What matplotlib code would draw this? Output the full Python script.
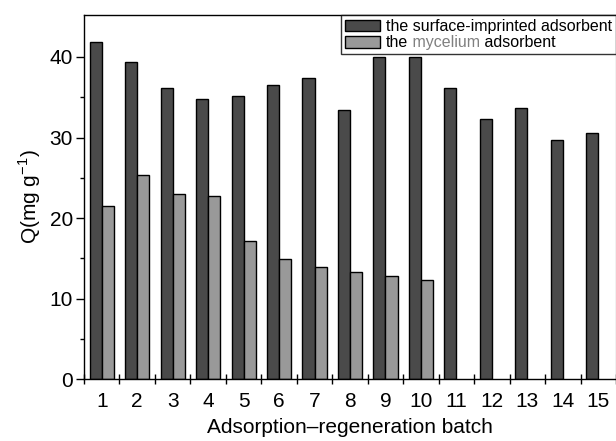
import numpy as np
import matplotlib
matplotlib.use('Agg')
import matplotlib.pyplot as plt
from matplotlib.patches import Patch

plt.rcParams['font.family'] = ['Liberation Sans', 'DejaVu Sans']

# dados
batches = np.arange(1, 16)
q_imprinted = [41.8, 39.4, 36.1, 34.8, 35.2, 36.5, 37.4, 33.4, 40.0, 40.0,
               36.1, 32.3, 33.7, 29.7, 30.5]
q_mycelium = [21.5, 25.4, 23.0, 22.7, 17.2, 14.9, 13.9, 13.3, 12.8, 12.3]

cor_escura = '#4a4a4a'
cor_clara = '#999999'
larg = 0.34
fs = 15
fs_leg = 11.5

fig = plt.figure(figsize=(6.16, 4.41), dpi=100)
ax = fig.add_axes([84/616, 61.7/441, 532/616, 364.3/441])

ax.bar(batches - larg/2, q_imprinted, width=larg, color=cor_escura,
       edgecolor='black', linewidth=1.0)
ax.bar(batches[:len(q_mycelium)] + larg/2, q_mycelium, width=larg,
       color=cor_clara, edgecolor='black', linewidth=1.0)

ax.set_xlim(0.5, 15.5)
ax.set_ylim(0, 45.2)

ax.set_xticks(batches)
ax.set_xticklabels([str(b) for b in batches])
ax.set_xticks(np.arange(0.5, 16, 1), minor=True)
ax.tick_params(axis='x', which='major', length=0, pad=9, labelsize=fs)
ax.tick_params(axis='x', which='minor', direction='inout', length=7, width=1)

ax.set_yticks([0, 10, 20, 30, 40])
ax.set_yticks(np.arange(5, 45, 10), minor=True)
ax.tick_params(axis='y', which='major', direction='out', length=6, width=1,
               labelsize=fs, pad=2)
ax.tick_params(axis='y', which='minor', direction='out', length=3, width=1)

for s in ax.spines.values():
    s.set_linewidth(1.0)
ax.spines['right'].set_color('#bbbbbb')

ax.set_xlabel('Adsorption\u2013regeneration batch', fontsize=fs, labelpad=5)
ax.set_ylabel('Q(mg g$^{\\mathregular{-1}}$)', fontsize=fs, labelpad=5)

# legenda, com "mycelium" em cinza
handles = [Patch(facecolor=cor_escura, edgecolor='black'),
           Patch(facecolor=cor_clara, edgecolor='black')]
leg = ax.legend(handles, ['the surface-imprinted adsorbent', 'the'],
                loc='upper right', fontsize=fs_leg, frameon=True, fancybox=False,
                borderaxespad=0, borderpad=0.25, labelspacing=0.08,
                handlelength=2.2, handleheight=0.75, handletextpad=0.35)
leg.get_frame().set_edgecolor('black')
leg.get_frame().set_linewidth(1.0)

fig.canvas.draw()
t_the = leg.get_texts()[1]
bb = t_the.get_window_extent()
x0, y0 = bb.x1 / fig.bbox.width, bb.y0 / fig.bbox.height
t_my = fig.text(x0, y0, ' mycelium', fontsize=fs_leg, color='#808080',
                va='bottom', ha='left')
fig.canvas.draw()
bb2 = t_my.get_window_extent()
fig.text(bb2.x1 / fig.bbox.width, y0, ' adsorbent', fontsize=fs_leg,
         color='black', va='bottom', ha='left')

fig.savefig('out.png', dpi=100)
